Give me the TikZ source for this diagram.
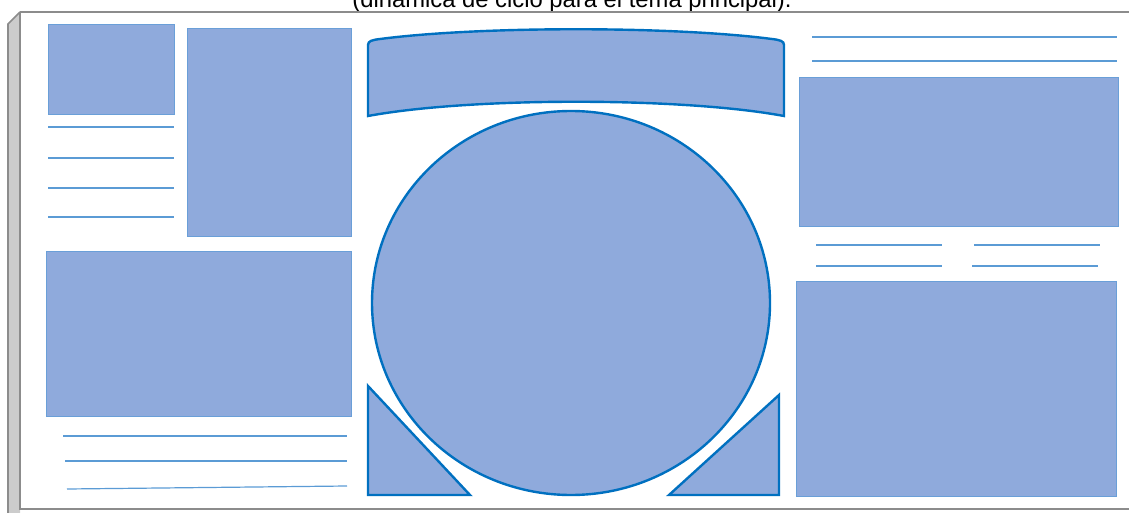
\documentclass[tikz,border=0pt]{standalone}
\usepackage{fontspec}
\setmainfont{Liberation Sans}
\definecolor{boxfill}{HTML}{8FAADC}
\definecolor{boxedge}{HTML}{6A9FD8}
\definecolor{shapeedge}{HTML}{0070C0}
\definecolor{rulecol}{HTML}{5B9BD5}
\definecolor{boardedge}{HTML}{8C8C8C}
\definecolor{stripfill}{HTML}{CCCCCC}
\tikzset{
  panel/.style={fill=boxfill, draw=boxedge, line width=1pt},
  bold shape/.style={fill=boxfill, draw=shapeedge, line width=2.4pt, line join=miter},
  writeline/.style={draw=rulecol, line width=1.2pt},
  board/.style={draw=boardedge, line width=1.6pt},
}
\begin{document}
\begin{tikzpicture}[x=1pt,y=-1pt]
\useasboundingbox (0,0) rectangle (1129,513);
% title (cut off at top, as in the reference)
\node[anchor=base, inner sep=0pt, font=\fontsize{23.8pt}{26pt}\selectfont] (title) at (572,8) {(dinámica de ciclo para el tema principal).};
% board with left 3D strip
\fill[stripfill] (8,24) -- (20,12) -- (20,513) -- (8,513) -- cycle;
\draw[board] (8,513) -- (8,24) -- (20,12);
\draw[board] (20,12) -- (1129,12);
\draw[board] (20,12) -- (20,509) -- (1129,509);
% left column
\path[panel] (48,25) rectangle (174,115);
\foreach \yy in {127,158,188,217} \draw[writeline] (48,\yy) -- (174,\yy);
\path[panel] (187,29) rectangle (351,236);
\path[panel] (46,251) rectangle (351,416);
\draw[writeline] (63,436) -- (347,436);
\draw[writeline] (65,461) -- (347,461);
\draw[writeline] (67,489) -- (347,486);
% centre
\path[bold shape] (368,116) -- (368,45) .. controls (368,41) and (372,40) .. (380,39)
   .. controls (480,26) and (672,26) .. (772,39) .. controls (780,40) and (784,41) .. (784,45)
   -- (784,116) .. controls (682,97) and (470,97) .. (368,116) -- cycle;
\path[bold shape] (571,303) ellipse [x radius=199, y radius=192];
\path[bold shape] (368,386) -- (368,495) -- (470,495) -- cycle;
\path[bold shape] (779,395) -- (779,495) -- (669,495) -- cycle;
% right column
\draw[writeline] (812,37) -- (1117,37);
\draw[writeline] (812,61) -- (1117,61);
\path[panel] (799,78) rectangle (1118,226);
\draw[writeline] (816,245) -- (942,245);
\draw[writeline] (816,266) -- (942,266);
\draw[writeline] (974,245) -- (1100,245);
\draw[writeline] (972,266) -- (1098,266);
\path[panel] (796,281) rectangle (1116,496);
\end{tikzpicture}
\end{document}
